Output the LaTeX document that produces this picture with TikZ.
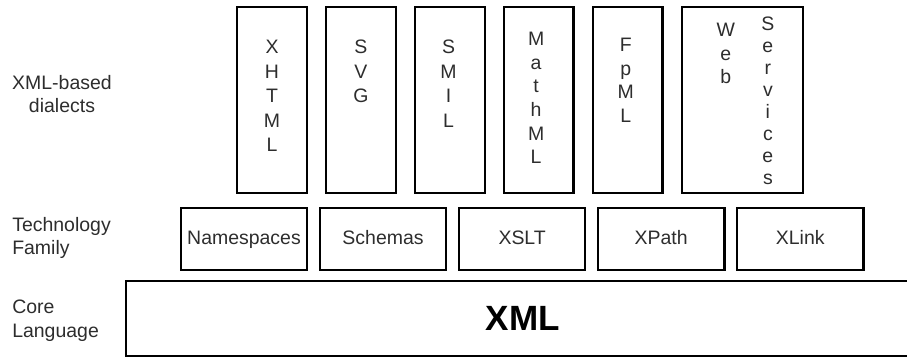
\documentclass[tikz,border=0pt]{standalone}
\usepackage{fontspec}
\setmainfont{Liberation Sans}
\usepackage{tikz}
\usetikzlibrary{positioning}
\definecolor{labelgrey}{RGB}{45,45,45}

\begin{document}
\begin{tikzpicture}[
    x=0.75pt, y=-0.75pt,
    every node/.style={font=\fontsize{14.6}{17.6}\selectfont},
    dialect/.style={rectangle, draw, line width=1.6pt, outer sep=0pt, minimum width=52.1pt, minimum height=139.5pt, inner sep=0pt},
    tech/.style={rectangle, draw, line width=1.6pt, outer sep=0pt, minimum width=94.9pt, minimum height=46.5pt, inner sep=0pt, text height=10.5pt, text depth=3pt, text=labelgrey},
    core/.style={rectangle, draw, line width=1.6pt, outer sep=0pt, minimum width=595.5pt, minimum height=56.25pt, inner sep=0pt, font=\fontsize{26.3}{30}\selectfont\bfseries},
    vtext/.style={align=center, inner sep=0pt, text=labelgrey},
    layer/.style={inner sep=0pt, text=labelgrey},
    node distance=14.6pt
]
    \useasboundingbox (0,0) rectangle (907,358);
    \clip (0,0) rectangle (907,358);

    % Layer names
    \node[layer, align=center, anchor=north] (l1) at (62,75) {XML-based\\dialects};
    \node[layer, align=left, anchor=north west] (l2) at (12,217) {Technology\\Family};
    \node[layer, align=left, anchor=north west] (l3) at (12,300) {Core\\Language};

    % XML-based dialects
    \node[dialect] (xhtml) at (272,100) {};
    \node[dialect, right=of xhtml] (svg) {};
    \node[dialect, right=of svg] (smil) {};
    \node[dialect, right=of smil] (mathml) {};
    \node[dialect, right=of mathml] (fpml) {};
    \node[dialect, right=of fpml, minimum width=90.75pt] (websvc) {};

    \node[vtext, below=24.75pt of xhtml.north, font=\fontsize{14.6}{18.4}\selectfont] (xhtml-t) {X\\H\\T\\M\\L};
    \node[vtext, below=24.75pt of svg.north, font=\fontsize{14.6}{18.4}\selectfont] (svg-t) {S\\V\\G};
    \node[vtext, below=24.75pt of smil.north, xshift=-1pt, font=\fontsize{14.6}{18.4}\selectfont] (smil-t) {S\\M\\I\\L};
    \node[vtext, below=18.75pt of mathml.north, xshift=-2pt, font=\fontsize{14.6}{17.7}\selectfont] (mathml-t) {M\\a\\t\\h\\M\\L};
    \node[vtext, below=23.25pt of fpml.north, xshift=-1.5pt, font=\fontsize{14.6}{17.7}\selectfont] (fpml-t) {F\\p\\M\\L};
    \node[vtext, below=12pt of websvc.north, xshift=-12.4pt, font=\fontsize{14.6}{17.6}\selectfont] (web-t) {W\\e\\b};
    \node[vtext, below=7.5pt of websvc.north, xshift=19.1pt, font=\fontsize{14.6}{16.5}\selectfont] (svc-t) {S\\e\\r\\v\\i\\c\\e\\s};

    % Technology family
    \node[tech] (ns) at (244,239) {Namespaces};
    \node[tech, right=9.4pt of ns] (schemas) {Schemas};
    \node[tech, right=9.4pt of schemas] (xslt) {XSLT};
    \node[tech, right=9.4pt of xslt] (xpath) {XPath};
    \node[tech, right=9.4pt of xpath] (xlink) {XLink};

    % Core language
    \node[core] (xml) at (523,318.5) {XML};
\end{tikzpicture}
\end{document}
